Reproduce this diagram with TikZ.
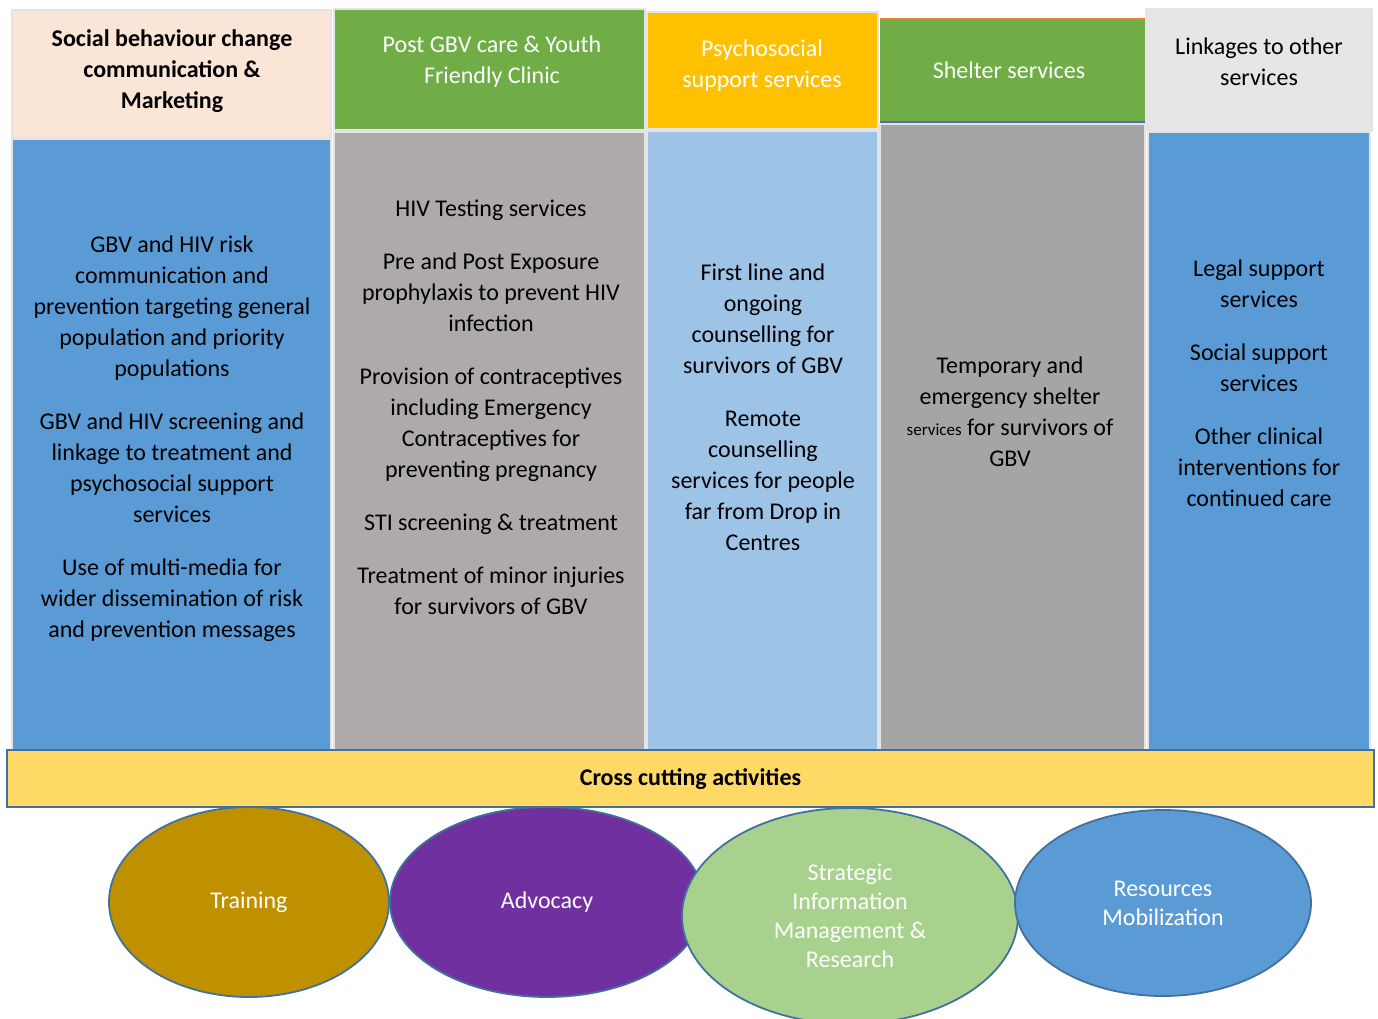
\documentclass[tikz,border=0pt]{standalone}
\usepackage{fontspec}
\setmainfont{Carlito}
\usetikzlibrary{shapes.geometric}

\definecolor{peach}{HTML}{FBE5D6}
\definecolor{midblue}{HTML}{5B9BD5}
\definecolor{leaf}{HTML}{70AD47}
\definecolor{warmgray}{HTML}{AEAAAA}
\definecolor{gold}{HTML}{FFC000}
\definecolor{skyblue}{HTML}{9DC3E6}
\definecolor{midgray}{HTML}{A5A5A5}
\definecolor{palegray}{HTML}{E7E6E6}
\definecolor{barfill}{HTML}{FFD966}
\definecolor{edge}{HTML}{41719C}
\definecolor{frame}{HTML}{E4E4E4}
\definecolor{ochre}{HTML}{BF9000}
\definecolor{violet}{HTML}{7030A0}
\definecolor{sage}{HTML}{A9D18E}
\definecolor{accent}{HTML}{ED7D31}
\definecolor{rule}{HTML}{4A72A8}

\begin{document}
\begin{tikzpicture}[x=1pt,y=-1pt,
  panel/.style={draw=frame, line width=2pt, anchor=north west, inner sep=0pt, outer sep=0pt},
  body/.style={align=center, font=\fontsize{24}{31}\selectfont, inner sep=0pt},
  oval/.style={ellipse, draw=edge, line width=1.8pt, inner sep=0pt, text=white,
               align=center, font=\fontsize{24}{29}\selectfont}]
\useasboundingbox (0,0) rectangle (1378,1019);
\clip (0,0) rectangle (1378,1019);
\fill[white] (0,0) rectangle (1378,1019);

% column headers
\node[panel, fill=peach,    minimum width=319, minimum height=128] (h1) at (12,10) {};
\node[panel, fill=leaf,     minimum width=311, minimum height=121] (h2) at (334,9) {};
\node[panel, fill=gold,     minimum width=231, minimum height=117] (h3) at (647,12) {};
\node[panel, fill=leaf, draw=none, minimum width=265, minimum height=103] (h4) at (880,19) {};
\node[panel, fill=palegray, minimum width=226, minimum height=122] (h5) at (1146,9) {};
\draw[accent, line width=2.5pt] (h4.north west) -- (h4.north east);
\draw[rule, line width=2.5pt] (h4.south west) -- (h4.south east);

% column bodies
\node[panel, fill=midblue,  minimum width=319, minimum height=611] (b1) at (12,139) {};
\node[panel, fill=warmgray, minimum width=311, minimum height=618] (b2) at (334,132) {};
\node[panel, fill=skyblue,  minimum width=231, minimum height=619] (b3) at (647,131) {};
\node[panel, fill=midgray,  minimum width=265, minimum height=626] (b4) at (880,124) {};
\node[panel, fill=midblue,  minimum width=222, minimum height=618] (b5) at (1148,132) {};

% header texts
\node[body, font=\fontsize{24}{31}\selectfont\bfseries] (t1) at (172,71)
  {Social behaviour change\\communication \&\\Marketing};
\node[body, text=white] (t2) at (492,62) {Post GBV care \& Youth\\Friendly Clinic};
\node[body, text=white] (t3) at (762,66) {Psychosocial\\support services};
\node[body, text=white] (t4) at (1009,70) {Shelter services};
\node[body] (t5) at (1259,62) {Linkages to other\\services};

% body texts
\node[body] (c1) at (172,439)
  {GBV and HIV risk\\communication and\\prevention targeting general\\population and priority\\populations\\[22pt]
   GBV and HIV screening and\\linkage to treatment and\\psychosocial support\\services\\[22pt]
   Use of multi-media for\\wider dissemination of risk\\and prevention messages};
\node[body] (c2) at (491,407)
  {HIV Testing services\\[22pt]
   Pre and Post Exposure\\prophylaxis to prevent HIV\\infection\\[22pt]
   Provision of contraceptives\\including Emergency\\Contraceptives for\\preventing pregnancy\\[22pt]
   STI screening \& treatment\\[22pt]
   Treatment of minor injuries\\for survivors of GBV};
\node[body] (c3) at (763,407)
  {First line and\\ongoing\\counselling for\\survivors of GBV\\[22pt]
   Remote\\counselling\\services for people\\far from Drop in\\Centres};
\node[body] (c4) at (1010,412)
  {Temporary and\\emergency shelter\\{\fontsize{17}{31}\selectfont services} for survivors of\\GBV};
\node[body] (c5) at (1259,383)
  {Legal support\\services\\[22pt]
   Social support\\services\\[22pt]
   Other clinical\\interventions for\\continued care};

% cross cutting activities
\node[oval, fill=ochre,   minimum width=280, minimum height=190] (e1) at (249,902) {\raisebox{-2pt}{Training}};
\node[oval, fill=violet,  minimum width=314, minimum height=190] (e2) at (547,902) {\raisebox{-2pt}{Advocacy}};
\node[oval, fill=sage,    minimum width=336, minimum height=216] (e3) at (850,916)
  {Strategic\\Information\\Management \&\\Research};
\node[oval, fill=midblue, minimum width=296, minimum height=186] (e4) at (1163,903)
  {Resources\\Mobilization};

\node[panel, fill=barfill, draw=edge, minimum width=1367, minimum height=57] (bar) at (7,750) {};
\node[body, font=\fontsize{24}{31}\selectfont\bfseries] (bt) at ([yshift=-1pt]bar.center) {Cross cutting activities};
\end{tikzpicture}
\end{document}
